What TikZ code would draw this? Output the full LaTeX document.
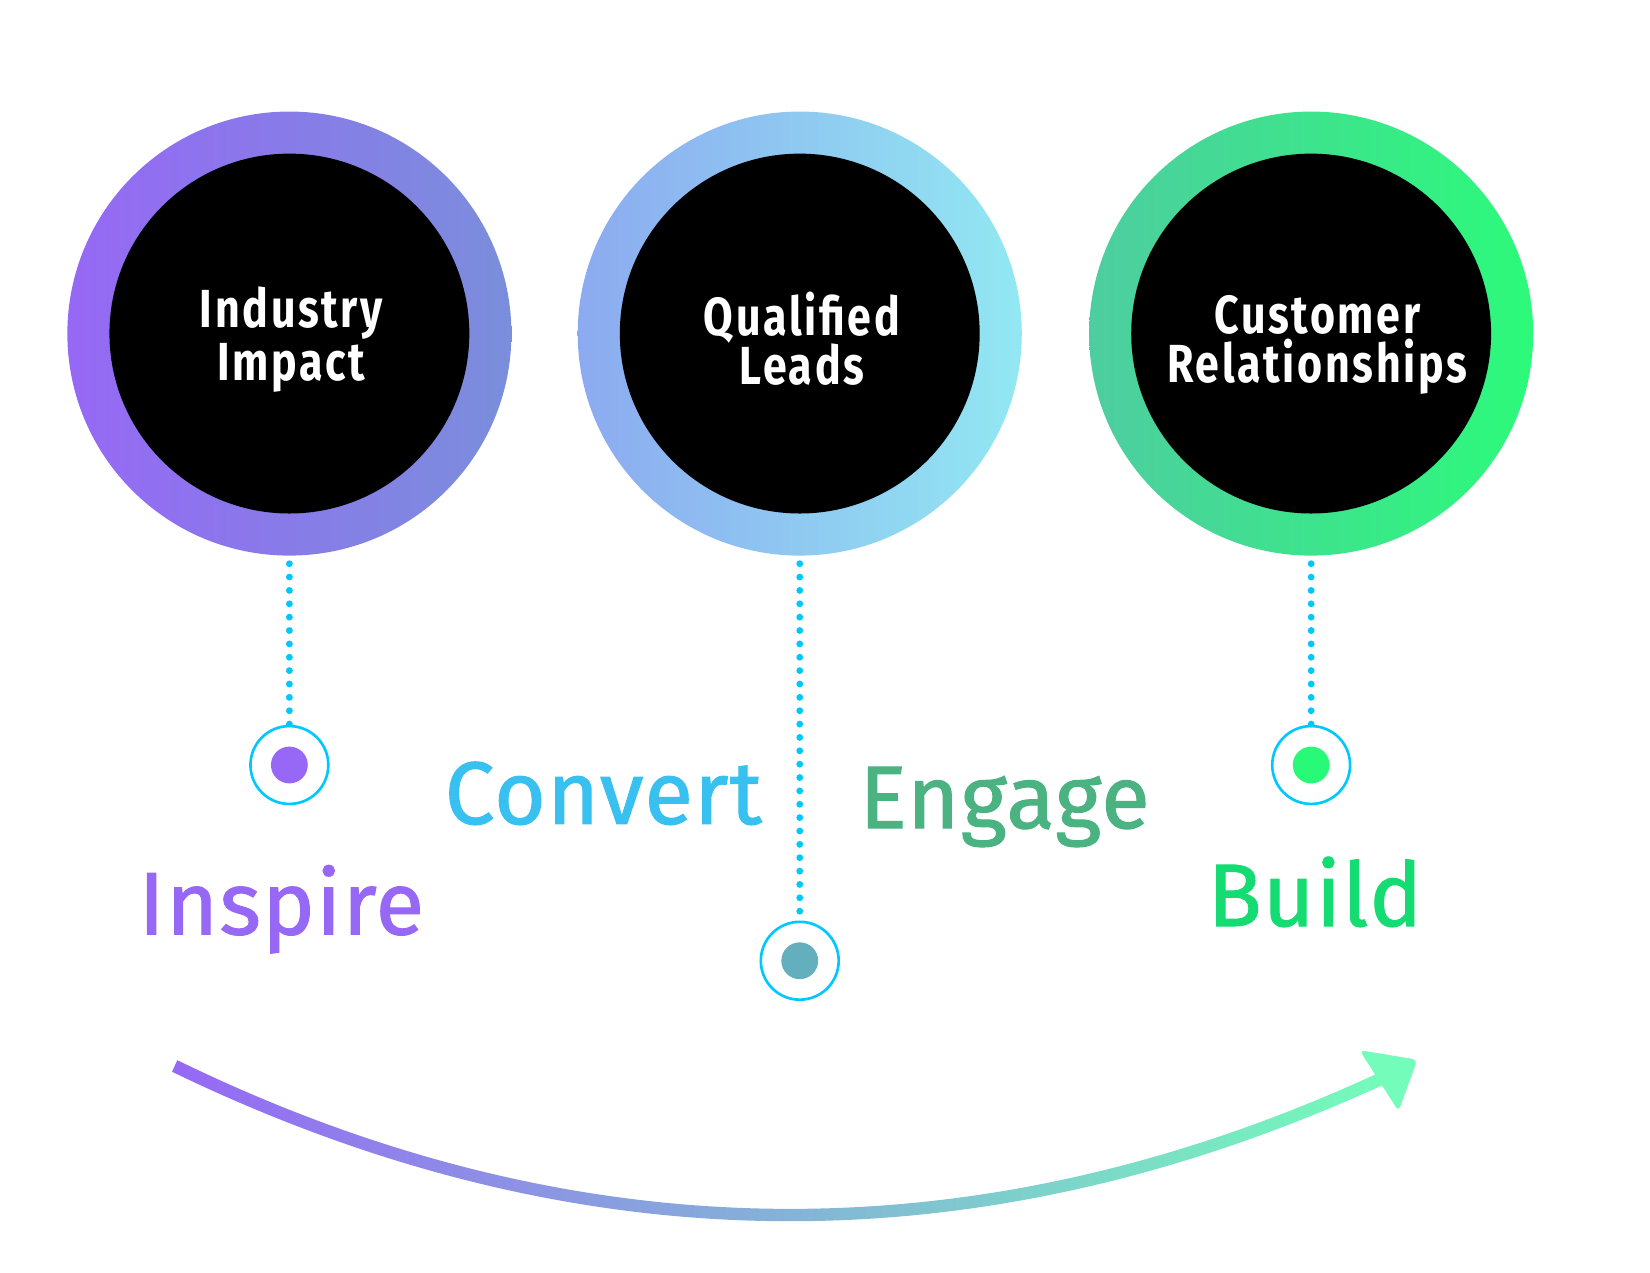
\documentclass[tikz,border=0pt]{standalone}
\usepackage{fontspec}
\setmainfont{Fira Sans}
\newfontfamily\circfont[FakeStretch=0.8,LetterSpace=5]{Fira Sans}
\newfontfamily\wordfont[LetterSpace=1.5,FakeBold=1.2]{Fira Sans}
\usepackage{xcolor}
\usepackage{tikz}
\usetikzlibrary{arrows.meta}

\definecolor{dotblue}{RGB}{0,200,255}
\definecolor{inspirecol}{RGB}{150,104,245}
\definecolor{convertcol}{RGB}{56,192,240}
\definecolor{engagecol}{RGB}{75,179,130}
\definecolor{buildcol}{RGB}{20,220,115}
\definecolor{spotteal}{RGB}{100,175,190}
\definecolor{spotgreen}{RGB}{40,250,120}
\definecolor{mint}{RGB}{115,252,186}

\tikzstyle{ring} = [circle, minimum size=42.2mm, inner sep=0pt]
\tikzstyle{core} = [circle, fill=black, minimum size=34.2mm, inner sep=0pt]
\tikzstyle{caption} = [text=white, align=center, inner sep=0pt, font=\circfont\bfseries\fontsize{14.5}{13.2}\selectfont]
\tikzstyle{target} = [circle, draw=dotblue, line width=0.25mm, minimum size=7.4mm, inner sep=0pt]
\tikzstyle{spot} = [circle, minimum size=3.5mm, inner sep=0pt]
\tikzstyle{word} = [anchor=base west, inner sep=0pt, font=\wordfont\fontsize{24}{30}\selectfont]
\tikzstyle{dotline} = [draw=dotblue, line width=0.65mm, line cap=round, dash pattern=on 0pt off 1.27mm]

\begin{document}
\begin{tikzpicture}[x=0.1mm, y=-0.1mm]
    \useasboundingbox (0,0) rectangle (1568,1209);

    \node[ring, left color=inspirecol, right color={rgb,255:red,122;green,142;blue,220}] (c1) at (275,317) {};
    \node[ring, left color={rgb,255:red,140;green,170;blue,240}, right color={rgb,255:red,146;green,232;blue,242}] (c2) at (760,317) {};
    \node[ring, left color={rgb,255:red,78;green,205;blue,160}, right color={rgb,255:red,44;green,250;blue,122}] (c3) at (1246,317) {};

    \node[core] (k1) at (c1) {};
    \node[core] (k2) at (c2) {};
    \node[core] (k3) at (c3) {};
    \node[caption] (impact) at (277,323) {Industry\\Impact};
    \node[caption] (leads) at (762,322) {Qualified\\Leads};
    \node[caption] (relations) at (1252,328) {Customer\\Relationships};

    \node[target] (t1) at (275,727) {};
    \node[target] (t2) at (760,913) {};
    \node[target] (t3) at (1246,727) {};
    \node[spot, fill=inspirecol] (s1) at (t1) {};
    \node[spot, fill=spotteal] (s2) at (t2) {};
    \node[spot, fill=spotgreen] (s3) at (t3) {};

    \draw[dotline] (c1.south) ++(0,7) -- (t1.north);
    \draw[dotline] (c2.south) ++(0,7) -- (t2.north);
    \draw[dotline] (c3.south) ++(0,7) -- (t3.north);

    \node[word, text=inspirecol] (inspire) at (131,888) {Inspire};
    \node[word, text=convertcol] (convert) at (422,783) {Convert};
    \node[word, text=engagecol] (engage) at (816,787) {Engage};
    \node[word, text=buildcol] (build) at (1147,880) {Build};

    % sweep arrow
    \coordinate (from) at (166,1013);
    \coordinate (to) at (1315,1024);
    \shade[left color=inspirecol, middle color={rgb,255:red,122;green,172;blue,218}, right color=mint]
        ([xshift=0.25mm,yshift=0.55mm]from) .. controls (549,1193) and (932,1195) .. ([xshift=-0.25mm,yshift=0.55mm]to)
        -- ([xshift=0.25mm,yshift=-0.55mm]to) .. controls (932,1207) and (549,1205) .. ([xshift=-0.25mm,yshift=-0.55mm]from) -- cycle;
    \fill[mint, rounded corners=0.5mm] (1292,998) -- (1347,1007) -- (1329,1056) -- cycle;
\end{tikzpicture}
\end{document}
